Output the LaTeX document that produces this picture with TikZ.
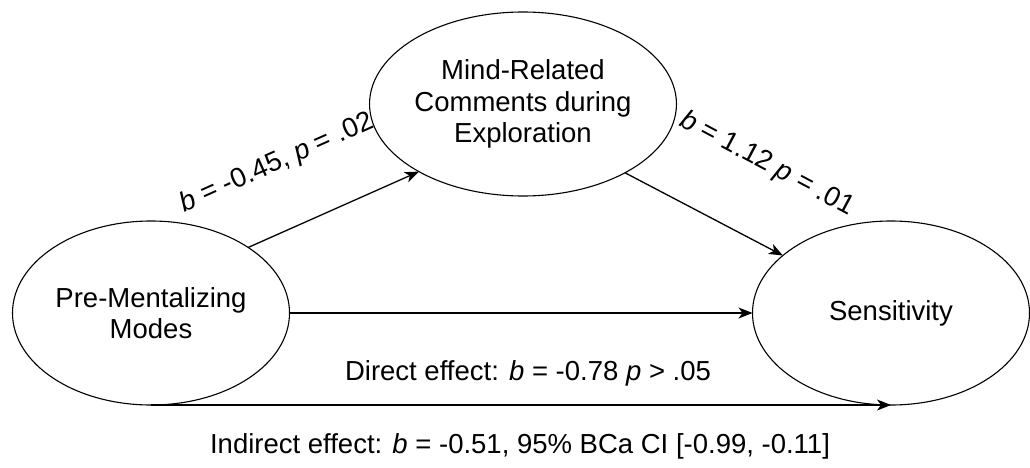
\documentclass[tikz,border=0pt]{standalone}
\usepackage{fontspec}
\setmainfont{Liberation Sans}
\usetikzlibrary{arrows.meta,shapes.geometric}
\begin{document}
\begin{tikzpicture}[x=1pt,y=-1pt,
  var/.style={draw, ellipse, line width=1.1pt, minimum width=277pt, minimum height=184pt,
    inner sep=0pt, outer sep=0pt, align=center, font=\fontsize{27.5}{31.6}\selectfont},
  arr/.style={line width=1.3pt, -{Stealth[length=14pt,width=11pt,inset=4pt]}},
  lbl/.style={inner sep=0pt, font=\fontsize{27.5}{31.6}\selectfont}]
\useasboundingbox (0,0) rectangle (1030,468);
\node[var] (L) at (151,313) {Pre-Mentalizing\\Modes};
\node[var] (M) at (523,104) {Mind-Related\\Comments during\\Exploration};
\node[var] (R) at (891,313) {Sensitivity};
\draw[arr] (L.34) -- (M.213);
\draw[arr] (M.326) -- (R.152);
\draw[arr] (L.east) -- (R.west);
\draw[arr] (L.south) -- (R.south);
\node[lbl, rotate=24] (la) at (277,163) {\textit{b} = -0.45, \textit{p} = .02};
\node[lbl, rotate=-28] (lb) at (767,164) {\textit{b} = 1.12 \textit{p} = .01};
\node[lbl] (ld) at (528,373) {Direct effect: \textit{b} = -0.78 \textit{p} > .05};
\node[lbl] (li) at (520,446) {Indirect effect: \textit{b} = -0.51, 95\% BCa CI [-0.99, -0.11]};
\end{tikzpicture}
\end{document}
